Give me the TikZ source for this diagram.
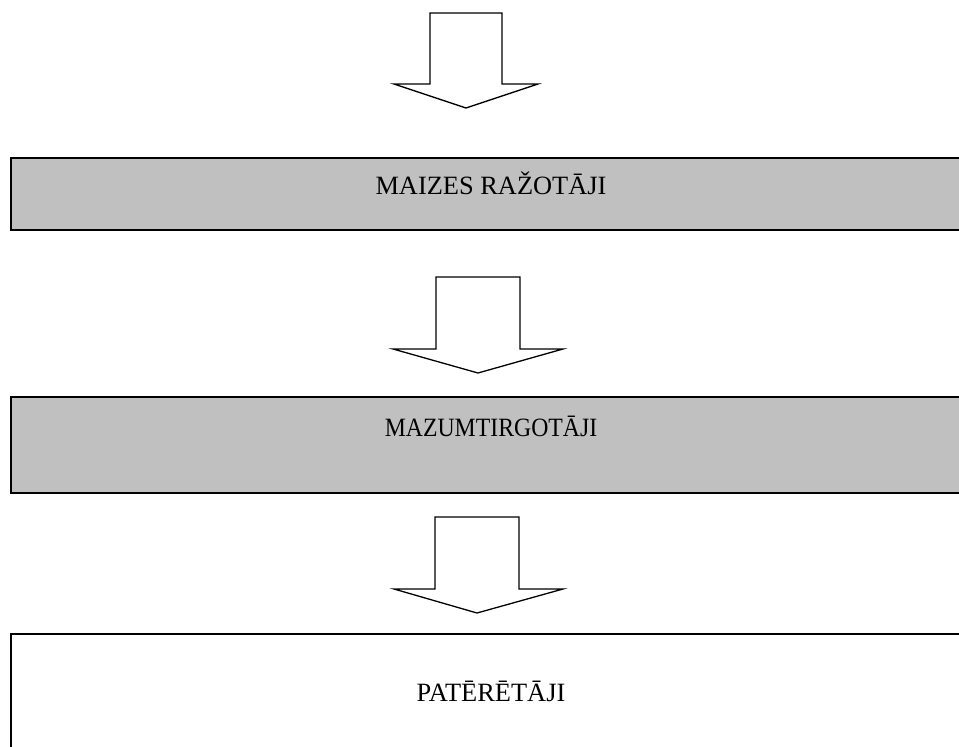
\documentclass[tikz,border=0pt]{standalone}
\usepackage{fontspec}
\usepackage{graphicx}
\setmainfont{Liberation Serif}
\definecolor{boxgray}{HTML}{C0C0C0}
\tikzset{
  flowbox/.style={draw=black, line width=2pt, inner sep=0pt, minimum width=960pt,
    anchor=north west, align=center, font=\fontsize{26.4}{30}\selectfont},
  grayfill/.style={fill=boxgray},
  whitefill/.style={fill=white},
  blockarrow/.style={draw=black, line width=1.3pt, fill=white, line join=miter}
}
\begin{document}
\begin{tikzpicture}[x=1pt,y=-1pt]
\useasboundingbox (0,0) rectangle (959,747);
\clip (0,0) rectangle (959,747);
\fill[white] (0,0) rectangle (959,747);
% boxes
\node[flowbox, grayfill, text height=36pt, text depth=36pt] (b1) at (10,157) {MAIZES RAŽOTĀJI};
\node[flowbox, grayfill, text height=39.5pt, text depth=56.5pt] (b2) at (10,396) {\scalebox{0.9}[1]{MAZUMTIRGOTĀJI}};
\node[flowbox, whitefill, text height=67pt, text depth=53pt] (b3) at (10,633) {PATĒRĒTĀJI};
% block arrows
\draw[blockarrow] (430,13) -- (502,13) -- (502,84) -- (538,84) -- (466,108) -- (394,84) -- (430,84) -- cycle;
\draw[blockarrow] (436,277) -- (520,277) -- (520,349) -- (563,349) -- (478,373) -- (393,349) -- (436,349) -- cycle;
\draw[blockarrow] (435,517) -- (519,517) -- (519,589) -- (563,589) -- (477,613) -- (394,589) -- (435,589) -- cycle;
\end{tikzpicture}
\end{document}
